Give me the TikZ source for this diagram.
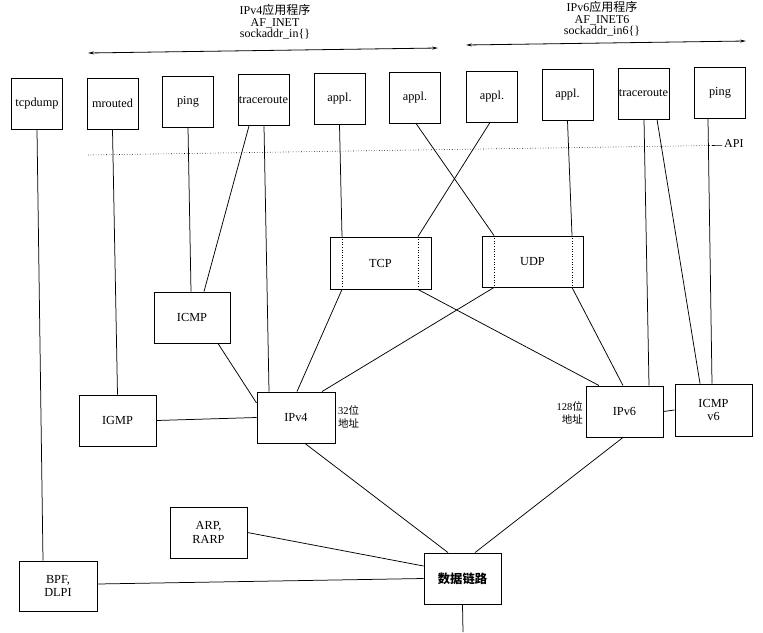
\documentclass[tikz,border=0pt]{standalone}
\usepackage{fontspec}
\setmainfont{Liberation Serif}
\newfontfamily\cjk{Noto Sans CJK SC}
\usetikzlibrary{arrows.meta}
\begin{document}
\begin{tikzpicture}[x=1pt,y=-1pt,
  box/.style={draw, line width=0.9pt, inner sep=0pt, minimum width=51pt, minimum height=51pt,
    font=\fontsize{12.3}{13.5}\selectfont, align=center},
  wbox/.style={box, minimum width=77pt},
  conn/.style={line width=0.75pt},
  inner/.style={line width=0.6pt, dotted},
  hdr/.style={font=\fontsize{12}{11.5}\selectfont, align=center, inner sep=0pt},
  lbl/.style={font=\fontsize{10.5}{13}\selectfont, inner sep=0pt},
  span/.style={line width=0.8pt, {Stealth[length=6pt,width=3pt]}-{Stealth[length=6pt,width=3pt]}}
]
\useasboundingbox (0,0) rectangle (763,632);

% header
\node[hdr] (h4) at (275,22) {IPv4{\cjk 应用程序}\\AF\_INET\\sockaddr\_in\{\}};
\node[hdr] (h6) at (602,19) {IPv6{\cjk 应用程序}\\AF\_INET6\\sockaddr\_in6\{\}};
\coordinate (a4l) at (88,53);
\coordinate (a4r) at (438,48);
\coordinate (a6l) at (466,45);
\coordinate (a6r) at (746,41);
\draw[span] (a4l) -- (a4r);
\draw[span] (a6l) -- (a6r);

% top boxes
\node[box] (tcpdump) at (37,104) {tcpdump};
\node[box] (mrouted) at (112.5,103.5) {mrouted};
\node[box] (ping4) at (188,101.5) {ping};
\node[box] (tr4) at (263.5,100) {traceroute};
\node[box] (appl1) at (339.5,99) {appl.};
\node[box] (appl2) at (415,97.5) {appl.};
\node[box] (appl3) at (492,96.5) {appl.};
\node[box] (appl4) at (567.5,95) {appl.};
\node[box] (tr6) at (643.5,93.5) {traceroute};
\node[box] (ping6) at (720,93) {ping};

% API line
\coordinate (apil) at (88,155);
\coordinate (apim) at (712,145.5);
\coordinate (apir) at (722,145.3);
\draw[line width=0.6pt, dotted] (apil) -- (apim);
\draw[line width=0.6pt] (apim) -- (apir);
\node[lbl, font=\fontsize{12}{12}\selectfont, anchor=west] (api) at (724,144) {API};

% middle boxes
\node[box, minimum width=101pt, minimum height=52pt] (tcp) at (380.5,263) {TCP};
\node[box, minimum width=101pt] (udp) at (532.5,261.5) {UDP};
\node[wbox, minimum width=76pt] (icmp) at (192,317.5) {ICMP};
\node[wbox] (igmp) at (117.5,420.5) {IGMP};
\node[wbox, minimum width=78pt] (ipv4) at (296,417.5) {IPv4};
\node[wbox] (ipv6) at (624.5,411.5) {IPv6};
\node[wbox, minimum height=52pt] (icmp6) at (713.5,410) {ICMP\\v6};
\node[lbl, align=left, anchor=west] (l32) at (338,416.5) {32{\cjk 位}\\{\cjk 地址}};
\node[lbl, align=right, anchor=east] (l128) at (583,413) {128{\cjk 位}\\{\cjk 地址}};

% bottom boxes
\node[wbox] (arp) at (208.5,532.5) {ARP,\\RARP};
\node[wbox, minimum width=78pt, minimum height=50pt] (bpf) at (58,586) {BPF,\\DLPI};
\node[wbox] (dl) at (462.5,578.5) {\cjk\bfseries 数据链路};
\coordinate (dlend) at (463,632);

% connectors
\draw[conn] (tcpdump.south) -- ([xshift=-15pt]bpf.north);
\draw[conn] (mrouted.south) -- (igmp.north);
\draw[conn] (ping4.south) -- ([xshift=-1pt]icmp.north);
\draw[conn] ([xshift=-14.5pt]tr4.south) -- ([xshift=12pt]icmp.north);
\draw[conn] ([xshift=0.5pt]tr4.south) -- ([xshift=-27pt]ipv4.north);

\draw[conn] (appl1.south) -- ([xshift=-38.5pt]tcp.north);
\draw[inner] ([xshift=-38.5pt]tcp.north) -- ([xshift=-38.5pt]tcp.south);
\draw[conn] ([xshift=-38.5pt]tcp.south) -- ([xshift=1pt]ipv4.north);

\draw[conn] ([xshift=1pt]appl2.south) -- ([xshift=-38.5pt]udp.north);
\draw[inner] ([xshift=-38.5pt]udp.north) -- ([xshift=-38.5pt]udp.south);
\draw[conn] ([xshift=-38.5pt]udp.south) -- ([xshift=26pt]ipv4.north);

\draw[conn] ([xshift=-2pt]appl3.south) -- ([xshift=37.5pt]tcp.north);
\draw[inner] ([xshift=37.5pt]tcp.north) -- ([xshift=37.5pt]tcp.south);
\draw[conn] ([xshift=37.5pt]tcp.south) -- ([xshift=-25.5pt]ipv6.north);

\draw[conn] (appl4.south) -- ([xshift=39.5pt]udp.north);
\draw[inner] ([xshift=39.5pt]udp.north) -- ([xshift=39.5pt]udp.south);
\draw[conn] ([xshift=39.5pt]udp.south) -- ([xshift=-1.5pt]ipv6.north);

\draw[conn] ([xshift=0.5pt]tr6.south) -- ([xshift=24.5pt]ipv6.north);
\draw[conn] ([xshift=13.5pt]tr6.south) -- ([xshift=-13.5pt]icmp6.north);
\draw[conn] ([xshift=-12pt]ping6.south) -- ([xshift=-1.5pt]icmp6.north);

\draw[conn] ([xshift=26pt]icmp.south) -- ([yshift=14.5pt]ipv4.west);
\draw[conn] (igmp.east) -- (ipv4.west);
\draw[conn] (ipv6.east) -- (icmp6.west);

\draw[conn] ([xshift=9pt]ipv4.south) -- ([xshift=-14.5pt]dl.north);
\draw[conn] ([xshift=-1.5pt]ipv6.south) -- ([xshift=12.5pt]dl.north);
\draw[conn] (arp.east) -- ([yshift=12.5pt]dl.west);
\draw[conn] ([yshift=2pt]bpf.east) -- (dl.west);
\draw[conn] (dl.south) -- (dlend);
\end{tikzpicture}
\end{document}
